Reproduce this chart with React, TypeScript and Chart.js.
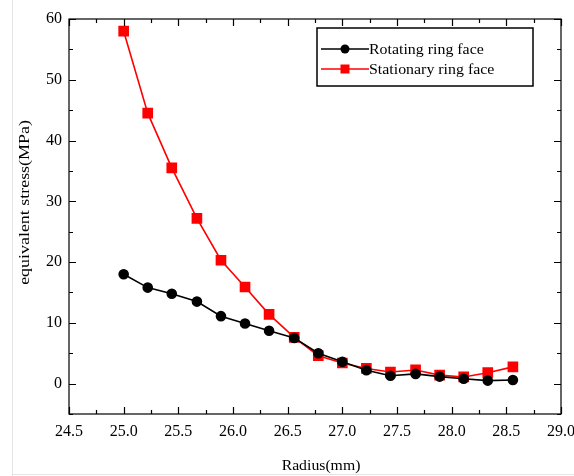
import React, { useEffect, useRef } from "react";
import { Chart, registerables } from "chart.js";

Chart.register(...registerables);

const radius = [25.0, 25.22, 25.44, 25.67, 25.89, 26.11, 26.33, 26.56, 26.78, 27.0, 27.22, 27.44, 27.67, 27.89, 28.11, 28.33, 28.56];
const rotating = [18.0, 15.8, 14.8, 13.5, 11.1, 9.9, 8.7, 7.5, 5.0, 3.6, 2.2, 1.3, 1.6, 1.15, 0.8, 0.5, 0.6];
const stationary = [58.0, 44.5, 35.5, 27.2, 20.3, 15.9, 11.4, 7.6, 4.6, 3.4, 2.5, 1.9, 2.25, 1.4, 1.1, 1.8, 2.75];
const seriesLabels = ["Rotating ring face", "Stationary ring face"];
const xTitle = "Radius(mm)";
const yTitle = "equivalent stress(MPa)";

const SERIF = "'Liberation Serif', 'Times New Roman', serif";

const framePlugin = {
  id: "frame",
  beforeDraw(chart: any) {
    const { ctx, width, height } = chart;
    ctx.save();
    ctx.fillStyle = "#fff";
    ctx.fillRect(0, 0, width, height);
    ctx.strokeStyle = "#e4e4e4";
    ctx.lineWidth = 1;
    ctx.beginPath();
    ctx.moveTo(12.5, 0);
    ctx.lineTo(12.5, height);
    ctx.moveTo(12, height - 1.5);
    ctx.lineTo(width, height - 1.5);
    ctx.stroke();
    ctx.restore();
  },
  afterDraw(chart: any) {
    const { ctx, chartArea } = chart;
    const { left, right, top, bottom } = chartArea;
    const xs = chart.scales.x;
    const ys = chart.scales.y;
    ctx.save();
    ctx.strokeStyle = "#000";
    ctx.lineWidth = 1.2;
    ctx.strokeRect(left, top, right - left, bottom - top);
    ctx.beginPath();
    for (let v = 24.5; v <= 29.0001; v += 0.25) {
      const px = Math.round(xs.getPixelForValue(v)) + 0.5;
      const major = Math.abs(v * 2 - Math.round(v * 2)) < 1e-6;
      const len = major ? 7 : 4;
      ctx.moveTo(px, bottom);
      ctx.lineTo(px, bottom - len);
      ctx.moveTo(px, top);
      ctx.lineTo(px, top + len);
    }
    for (let v = -5; v <= 60.0001; v += 5) {
      const py = Math.round(ys.getPixelForValue(v)) + 0.5;
      const major = v % 10 === 0;
      const len = major ? 7 : 4;
      ctx.moveTo(left, py);
      ctx.lineTo(left + len, py);
      ctx.moveTo(right, py);
      ctx.lineTo(right - len, py);
    }
    ctx.stroke();

    // axis titles (stretched along text like the reference)
    ctx.fillStyle = "#000";
    ctx.textAlign = "center";
    ctx.textBaseline = "middle";
    ctx.save();
    ctx.translate(25, (top + bottom) / 2 - 14);
    ctx.rotate(-Math.PI / 2);
    ctx.scale(1.28, 1);
    ctx.font = `14px ${SERIF}`;
    ctx.fillText(yTitle, 0, 0);
    ctx.restore();
    ctx.save();
    ctx.translate((left + right) / 2 + 6, 466);
    ctx.scale(1.05, 1);
    ctx.font = `15px ${SERIF}`;
    ctx.fillText(xTitle, 0, 0);
    ctx.restore();

    // legend
    const bx = right - 244;
    const by = top + 9;
    const bw = 216;
    const bh = 58;
    ctx.fillStyle = "#fff";
    ctx.fillRect(bx, by, bw, bh);
    ctx.lineWidth = 1.5;
    ctx.strokeStyle = "#000";
    ctx.strokeRect(bx, by, bw, bh);
    ctx.font = `15px ${SERIF}`;
    ctx.textBaseline = "middle";
    ctx.textAlign = "left";
    chart.data.datasets.forEach((ds: any, i: number) => {
      const y = by + 21 + i * 20;
      ctx.strokeStyle = ds.borderColor;
      ctx.lineWidth = 1.5;
      ctx.beginPath();
      ctx.moveTo(bx + 4, y);
      ctx.lineTo(bx + 52, y);
      ctx.stroke();
      ctx.fillStyle = ds.pointBackgroundColor;
      if (ds.pointStyle === "rect") {
        ctx.fillRect(bx + 28 - 4.5, y - 4.5, 9, 9);
      } else {
        ctx.beginPath();
        ctx.arc(bx + 28, y, 4.5, 0, Math.PI * 2);
        ctx.fill();
      }
      ctx.fillStyle = "#000";
      ctx.save();
      ctx.translate(bx + 52, y + 1);
      ctx.scale(1.06, 1);
      ctx.fillText(ds.label, 0, 0);
      ctx.restore();
    });
    ctx.restore();
  },
};

export default function App() {
  const ref = useRef<HTMLCanvasElement>(null);
  useEffect(() => {
    const canvas = ref.current;
    if (!canvas) return;
    const chart = new Chart(canvas, {
      type: "line",
      data: {
        datasets: [
          {
            label: seriesLabels[0],
            data: radius.map((x, i) => ({ x, y: rotating[i] })),
            borderColor: "#000000",
            backgroundColor: "#000000",
            pointBackgroundColor: "#000000",
            pointBorderColor: "#000000",
            pointStyle: "circle",
            pointRadius: 4.5,
            borderWidth: 1.6,
            tension: 0,
          },
          {
            label: seriesLabels[1],
            data: radius.map((x, i) => ({ x, y: stationary[i] })),
            borderColor: "#ff0000",
            backgroundColor: "#ff0000",
            pointBackgroundColor: "#ff0000",
            pointBorderColor: "#ff0000",
            pointStyle: "rect",
            pointRadius: 6.4,
            borderWidth: 1.6,
            tension: 0,
          },
        ],
      },
      options: {
        responsive: false,
        animation: false,
        layout: { padding: { top: 19, right: 13, left: 0, bottom: 0 } },
        plugins: { legend: { display: false }, tooltip: { enabled: false } },
        scales: {
          x: {
            type: "linear",
            min: 24.5,
            max: 29.0,
            grid: { display: false, drawTicks: false },
            border: { display: false },
            ticks: {
              stepSize: 0.25,
              padding: 8,
              autoSkip: false,
              maxRotation: 0,
              color: "#000",
              font: { family: SERIF, size: 16 },
              callback: (v: any) => {
                const n = Number(v);
                return Math.abs(n * 2 - Math.round(n * 2)) < 1e-6 ? n.toFixed(1) : "";
              },
            },
            title: { display: false },
            afterFit: (s: any) => {
              s.height = 62;
              s.paddingLeft = 0;
              s.paddingRight = 0;
            },
          },
          y: {
            type: "linear",
            min: -5,
            max: 60,
            grid: { display: false, drawTicks: false },
            border: { display: false },
            ticks: {
              stepSize: 5,
              padding: 7,
              autoSkip: false,
              color: "#000",
              font: { family: SERIF, size: 16 },
              callback: (v: any) => {
                const n = Number(v);
                return n >= 0 && n % 10 === 0 ? String(n) : "";
              },
            },
            title: { display: false },
            afterFit: (s: any) => {
              s.width = 69;
              s.paddingTop = 0;
              s.paddingBottom = 0;
            },
          },
        },
      },
      plugins: [framePlugin],
    });
    return () => chart.destroy();
  }, []);
  return (
    <div style={{ position: "fixed", left: 0, top: 0, width: 574, height: 476 }}>
      <canvas ref={ref} width={574} height={476} style={{ display: "block" }} />
    </div>
  );
}
